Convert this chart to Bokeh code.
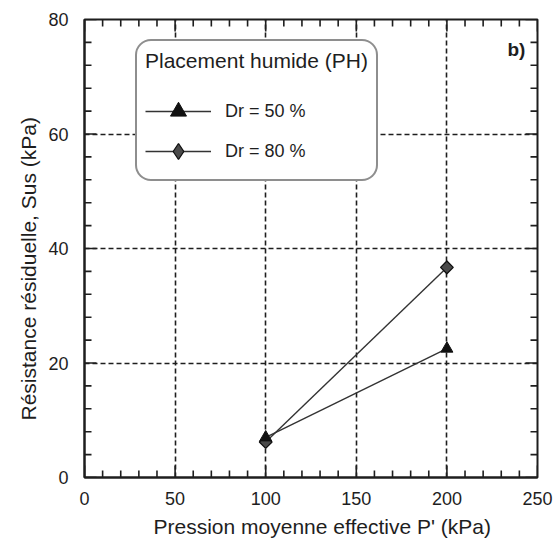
import math
from bokeh.plotting import figure
from bokeh.models import Range1d, FixedTicker, Legend, LegendItem, Label, Title
from bokeh.embed import file_html
from bokeh.resources import INLINE

pression = [100, 200]
sus_dr50 = [7.0, 22.5]
sus_dr80 = [6.2, 36.7]
series_labels = ["Dr = 50 %", "Dr = 80 %"]
legend_title = "Placement humide (PH)"
panel_tag = "b)"
x_title = "Pression moyenne effective P' (kPa)"
y_title = "Résistance résiduelle, Sus (kPa)"
x_ticks = [0, 50, 100, 150, 200, 250]
y_ticks = [0, 20, 40, 60, 80]
x_minor = list(range(0, 251, 10))
y_minor = list(range(0, 81, 4))

FONT = "Liberation Sans"
INK = "#1e1e1e"
X0, X1, Y0, Y1 = 0, 250, 0, 80

p = figure(width=559, height=542, output_backend="svg", toolbar_location=None,
           x_range=Range1d(X0, X1), y_range=Range1d(Y0, Y1),
           min_border_left=84, min_border_right=22, min_border_top=19, min_border_bottom=65,
           background_fill_color="white", border_fill_color="white")
p.outline_line_color = INK
p.outline_line_width = 2

for ax in (p.xaxis[0], p.yaxis[0]):
    ax.major_tick_in = 0
    ax.major_tick_out = 0
    ax.minor_tick_in = 0
    ax.minor_tick_out = 0
    ax.axis_line_color = INK
    ax.axis_line_width = 2
    ax.major_label_text_font = FONT
    ax.major_label_text_font_size = "18px"
    ax.major_label_text_color = INK

p.xaxis[0].ticker = FixedTicker(ticks=x_ticks)
p.yaxis[0].ticker = FixedTicker(ticks=y_ticks)
p.xaxis[0].major_label_standoff = 14
p.yaxis[0].major_label_standoff = 16

# axis titles as side-panel titles (slightly off-centre as in the reference)
p.add_layout(Title(text=x_title, align="left", offset=69, standoff=10,
                   text_font=FONT, text_font_size="21px", text_font_style="normal",
                   text_color=INK), "below")
p.add_layout(Title(text=y_title, align="left", offset=57, standoff=11,
                   text_font=FONT, text_font_size="21px", text_font_style="normal",
                   text_color=INK), "left")

p.xgrid.ticker = FixedTicker(ticks=x_ticks[1:-1])
p.ygrid.ticker = FixedTicker(ticks=y_ticks[1:-1])
for g in (p.xgrid[0], p.ygrid[0]):
    g.grid_line_color = INK
    g.grid_line_dash = "5 3"
    g.grid_line_width = 1.6

# inward ticks on all four sides, drawn from the tick lists
px_per_x = 453 / (X1 - X0)
px_per_y = 458 / (Y1 - Y0)
MAJ, MIN = 12, 7
xm = [t for t in x_minor if t not in x_ticks]
ym = [t for t in y_minor if t not in y_ticks]
for ticks, ln in ((x_ticks, MAJ), (xm, MIN)):
    d = ln / px_per_y
    p.segment(x0=ticks, y0=[Y0] * len(ticks), x1=ticks, y1=[Y0 + d] * len(ticks),
              line_color=INK, line_width=1.6)
    p.segment(x0=ticks, y0=[Y1] * len(ticks), x1=ticks, y1=[Y1 - d] * len(ticks),
              line_color=INK, line_width=1.6)
for ticks, ln in ((y_ticks, MAJ), (ym, MIN)):
    d = ln / px_per_x
    p.segment(x0=[X0] * len(ticks), y0=ticks, x1=[X0 + d] * len(ticks), y1=ticks,
              line_color=INK, line_width=1.6)
    p.segment(x0=[X1] * len(ticks), y0=ticks, x1=[X1 - d] * len(ticks), y1=ticks,
              line_color=INK, line_width=1.6)

l1 = p.line(pression, sus_dr50, line_color="#333333", line_width=1.4)
l2 = p.line(pression, sus_dr80, line_color="#333333", line_width=1.4)
# diamond used as legend swatch; hidden under the rotated squares on the plot
m2_key = p.scatter(pression, sus_dr80, marker="diamond", size=11, fill_color="#4a4a4a",
                   line_color="#111111", line_width=1.3)
m2 = p.scatter(pression, sus_dr80, marker="square", angle=math.pi / 4, size=9,
               fill_color="#4a4a4a", line_color="#111111", line_width=1.3)
m1 = p.scatter(pression, sus_dr50, marker="triangle", size=12, fill_color="#111111",
               line_color="#111111")

legend = Legend(items=[LegendItem(label=series_labels[0], renderers=[l1, m1]),
                       LegendItem(label=series_labels[1], renderers=[l2, m2_key])],
                location=(51, 296), title=legend_title,
                title_text_font=FONT, title_text_font_size="21px",
                title_text_font_style="normal", title_text_color=INK,
                label_text_font=FONT, label_text_font_size="18px", label_text_color=INK,
                glyph_width=66, glyph_height=40, spacing=0, padding=8,
                title_standoff=18, label_standoff=14,
                border_line_color=INK, border_line_width=2,
                background_fill_alpha=1.0, margin=0)
try:
    legend.border_radius = 16
except Exception:
    pass
p.add_layout(legend, "center")

p.add_layout(Label(x=423, y=418, x_units="screen", y_units="screen", text=panel_tag,
                   text_font=FONT, text_font_size="19px", text_font_style="bold",
                   text_color=INK))

open("out.html", "w").write(file_html(p, INLINE))
